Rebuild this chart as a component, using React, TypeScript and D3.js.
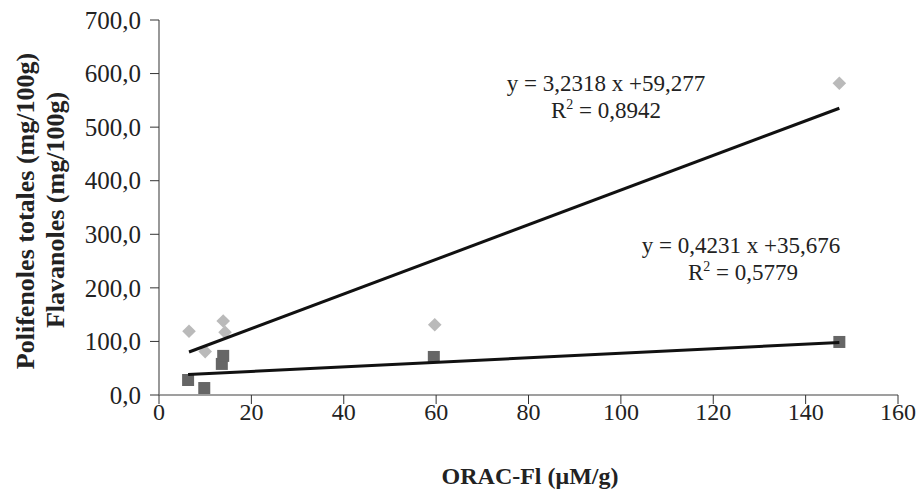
import React from 'react';
import * as d3 from 'd3';

// ORAC-Fl (uM/g) per sample
const polifenolesX = [6.5, 10, 13.9, 14.3, 59.7, 147.3];
const polifenolesY = [119, 81, 138, 117, 131, 582];
const flavanolesX = [6.3, 9.8, 13.6, 13.9, 59.5, 147.3];
const flavanolesY = [28, 13, 58, 73, 71, 99];

const xTicks = [0, 20, 40, 60, 80, 100, 120, 140, 160];
const yTicks = [0, 100, 200, 300, 400, 500, 600, 700];

// linear trend lines shown on the chart
const trendPoli = { slope: 3.2318, intercept: 59.277, r2: '0,8942', label: 'y = 3,2318 x +59,277' };
const trendFlav = { slope: 0.4231, intercept: 35.676, r2: '0,5779', label: 'y = 0,4231 x +35,676' };

const W = 924;
const H = 492;
const margin = { top: 20, right: 26, bottom: 97, left: 159 };

export default function App() {
	const x = d3.scaleLinear().domain([0, 160]).range([margin.left, W - margin.right]);
	const y = d3.scaleLinear().domain([0, 700]).range([H - margin.bottom, margin.top]);
	const fmt = (v: number) => d3.format('.1f')(v).replace('.', ',');

	const poli = polifenolesX.map((d, i) => ({ x: d, y: polifenolesY[i] }));
	const flav = flavanolesX.map((d, i) => ({ x: d, y: flavanolesY[i] }));

	const trendLine = (xs: number[], t: { slope: number; intercept: number }) => {
		const x0 = d3.min(xs) as number;
		const x1 = d3.max(xs) as number;
		const line = d3.line<number>().x((d) => x(d)).y((d) => y(d * t.slope + t.intercept));
		return line([x0, x1]) as string;
	};

	const diamond = d3.symbol().type(d3.symbolDiamond2).size(118)() as string;
	const font = '"Liberation Serif", "Times New Roman", serif';
	const axisColor = '#7f7f7f';
	const y0 = y(0);

	return (
		<svg width={W} height={H} style={{ position: 'absolute', left: 0, top: 0 }} fontFamily={font}>
			<rect width={W} height={H} fill="white" />
			{/* axes */}
			<line x1={x(0)} x2={x(160)} y1={y0} y2={y0} stroke={axisColor} strokeWidth={1.6} />
			<line x1={x(0)} x2={x(0)} y1={y(0)} y2={y(700)} stroke={axisColor} strokeWidth={1.6} />
			{xTicks.map((t) => (
				<g key={'x' + t}>
					<line x1={x(t)} x2={x(t)} y1={y0} y2={y0 + 9} stroke="#333" strokeWidth={1} />
					<text x={x(t)} y={y0 + 25} textAnchor="middle" fontSize={24} fill="#222">{t}</text>
				</g>
			))}
			{yTicks.map((t) => (
				<g key={'y' + t}>
					<line x1={x(0) - 9} x2={x(0)} y1={y(t)} y2={y(t)} stroke="#333" strokeWidth={1} />
					<text x={x(0) - 18} y={y(t)} dy="0.35em" textAnchor="end" fontSize={25} fill="#222">{fmt(t)}</text>
				</g>
			))}

			{/* points */}
			{poli.map((d, i) => (
				<path key={'p' + i} d={diamond} transform={`translate(${x(d.x)},${y(d.y)})`} fill="#bababa" />
			))}
			{flav.map((d, i) => (
				<rect key={'f' + i} x={x(d.x) - 6} y={y(d.y) - 6} width={12} height={12} fill="#666666" />
			))}

			{/* trend lines */}
			<path d={trendLine(polifenolesX, trendPoli)} stroke="#111" strokeWidth={3} fill="none" />
			<path d={trendLine(flavanolesX, trendFlav)} stroke="#111" strokeWidth={3} fill="none" />

			{/* equation labels */}
			<text x={606} y={91} textAnchor="middle" fontSize={23} fill="#222">{trendPoli.label}</text>
			<text x={606} y={118} textAnchor="middle" fontSize={23} fill="#222">
				R<tspan dy={-9} fontSize={14}>2</tspan><tspan dy={9}> = {trendPoli.r2}</tspan>
			</text>
			<text x={741} y={253} textAnchor="middle" fontSize={23} fill="#222">{trendFlav.label}</text>
			<text x={743} y={280} textAnchor="middle" fontSize={23} fill="#222">
				R<tspan dy={-9} fontSize={14}>2</tspan><tspan dy={9}> = {trendFlav.r2}</tspan>
			</text>

			{/* axis titles */}
			<text x={530} y={484} textAnchor="middle" fontSize={24} fontWeight="bold" fill="#222">ORAC-Fl (μM/g)</text>
			<text transform="translate(34,211) rotate(-90)" textAnchor="middle" fontSize={26} fontWeight="bold" fill="#222">Polifenoles totales (mg/100g)</text>
			<text transform="translate(64,210) rotate(-90)" textAnchor="middle" fontSize={26} fontWeight="bold" fill="#222">Flavanoles (mg/100g)</text>
		</svg>
	);
}
